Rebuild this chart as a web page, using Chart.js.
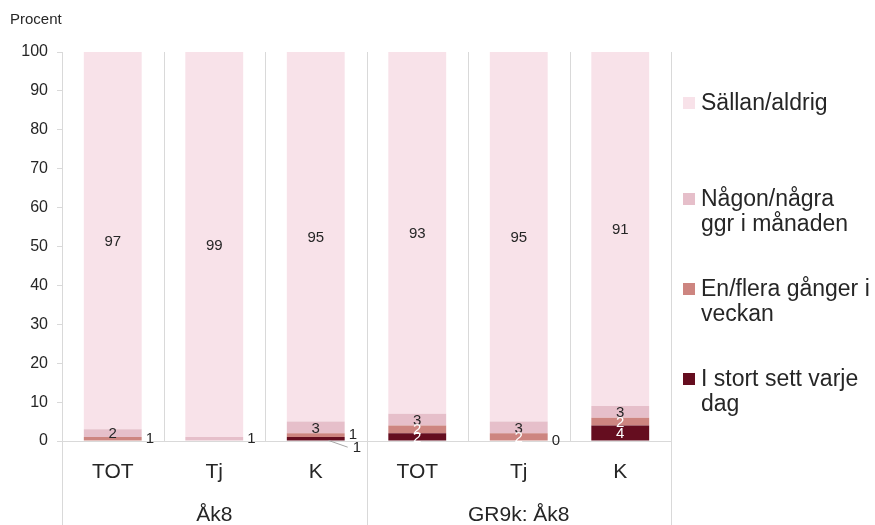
<!DOCTYPE html>
<html>
<head>
<meta charset="utf-8">
<script src="https://cdn.jsdelivr.net/npm/chart.js@4"></script>
<style>
  html, body { margin: 0; padding: 0; background: #fff; }
  #wrap { width: 875px; height: 525px; position: relative; }
</style>
</head>
<body>
<div id="wrap"><canvas id="myChart" width="875" height="525"></canvas></div>
<script>
// categories and groups
var labels = ['TOT', 'Tj', 'K', 'TOT', 'Tj', 'K'];
var groups = ['Åk8', 'GR9k: Åk8'];
var groupSize = 3;

// series values (percent), bottom to top
var daily   = [null, null, 1, 2, 0, 4];
var weekly  = [1, null, 1, 2, 2, 2];
var monthly = [2, 1, 3, 3, 3, 3];
var rare    = [97, 99, 95, 93, 95, 91];

var seriesNames = ['I stort sett varje dag', 'En/flera gånger i veckan', 'Någon/några ggr i månaden', 'Sällan/aldrig'];
var legendLines = [['I stort sett varje', 'dag'], ['En/flera gånger i', 'veckan'], ['Någon/några', 'ggr i månaden'], ['Sällan/aldrig']];
var yTicks = [0, 10, 20, 30, 40, 50, 60, 70, 80, 90, 100];

var FONT = '"Liberation Sans", Arial, sans-serif';
var LINE = '#D9D9D9';
Chart.defaults.font.family = FONT;

// draws the value inside each segment, or to the right of the bar if small
var segLabels = {
  id: 'segLabels',
  afterDatasetsDraw: function(chart) {
    var ctx = chart.ctx;
    ctx.save();
    ctx.font = '15px ' + FONT;
    ctx.textBaseline = 'middle';
    var ds = chart.data.datasets;
    for (var j = 0; j < chart.data.labels.length; j++) {
      var lastY = null;
      for (var i = ds.length - 1; i >= 0; i--) {
        var v = ds[i].data[j];
        if (v === null || v === undefined) continue;
        var bar = chart.getDatasetMeta(i).data[j];
        var cy = (bar.y + bar.base) / 2;
        var right = bar.x + bar.width / 2;
        if (v >= 2) {
          ctx.textAlign = 'center';
          ctx.fillStyle = ds[i].labelColor;
          ctx.fillText(String(v), bar.x, cy + 1);
        } else {
          var ly = cy;
          ctx.textAlign = 'left';
          if (lastY !== null && ly - lastY < 12) {
            ly = lastY + 13;
            ctx.strokeStyle = '#A6A6A6';
            ctx.lineWidth = 1;
            ctx.beginPath();
            ctx.moveTo(right - 16, bar.base);
            ctx.lineTo(right + 3, ly - 1);
            ctx.stroke();
            ctx.fillStyle = '#262626';
            ctx.fillText(String(v), right + 8, ly);
          } else {
            ctx.fillStyle = '#262626';
            ctx.fillText(String(v), right + 4, ly);
          }
          lastY = ly;
        }
      }
    }
    ctx.restore();
  }
};

// separators, group labels, "Procent" and legend
var decor = {
  id: 'decor',
  beforeDatasetsDraw: function(chart) {
    var ctx = chart.ctx, a = chart.chartArea, x = chart.scales.x;
    var h = chart.height;
    ctx.save();
    ctx.strokeStyle = LINE;
    ctx.lineWidth = 1;
    var n = labels.length;
    for (var k = 0; k <= n; k++) {
      var px;
      if (k === 0) px = a.left;
      else if (k === n) px = a.right;
      else px = (x.getPixelForValue(k - 1) + x.getPixelForValue(k)) / 2;
      px = Math.round(px) + 0.5;
      var full = (k % groupSize === 0);
      ctx.beginPath();
      ctx.moveTo(px, a.top);
      ctx.lineTo(px, full ? h : a.bottom);
      ctx.stroke();
    }
    ctx.restore();
  },
  afterDraw: function(chart) {
    var ctx = chart.ctx, a = chart.chartArea, x = chart.scales.x;
    ctx.save();
    ctx.fillStyle = '#262626';
    ctx.textBaseline = 'middle';
    ctx.font = '15px ' + FONT;
    ctx.textAlign = 'left';
    ctx.fillText('Procent', 10, 20);

    ctx.font = '21px ' + FONT;
    ctx.textAlign = 'center';
    for (var g = 0; g < groups.length; g++) {
      var x0 = x.getPixelForValue(g * groupSize);
      var x1 = x.getPixelForValue(g * groupSize + groupSize - 1);
      ctx.fillText(groups[g], (x0 + x1) / 2, 515);
    }

    // legend, top to bottom
    var ys = [103, 199, 289, 379];
    var ds = chart.data.datasets;
    ctx.font = '23px ' + FONT;
    ctx.textAlign = 'left';
    for (var r = 0; r < ds.length; r++) {
      var idx = ds.length - 1 - r;
      var y = ys[r];
      ctx.fillStyle = ds[idx].backgroundColor;
      ctx.fillRect(683, y - 6, 12, 12);
      ctx.fillStyle = '#262626';
      var lines = legendLines[idx];
      for (var l = 0; l < lines.length; l++) {
        ctx.fillText(lines[l], 701, y + 1 + l * 25);
      }
    }
    ctx.restore();
  }
};

var ctx = document.getElementById('myChart').getContext('2d');
var myChart = new Chart(ctx, {
  type: 'bar',
  data: {
    labels: labels,
    datasets: [
      { label: seriesNames[0], data: daily,   backgroundColor: '#650D1F', labelColor: '#FFFFFF' },
      { label: seriesNames[1], data: weekly,  backgroundColor: '#CD8580', labelColor: '#FFFFFF' },
      { label: seriesNames[2], data: monthly, backgroundColor: '#E6BFCA', labelColor: '#262626' },
      { label: seriesNames[3], data: rare,    backgroundColor: '#F8E2E9', labelColor: '#262626' }
    ]
  },
  options: {
    responsive: false,
    animation: false,
    layout: { padding: { top: 52, right: 204, left: 0, bottom: 0 } },
    datasets: { bar: { categoryPercentage: 1, barPercentage: 0.57, borderWidth: 0 } },
    plugins: { legend: { display: false }, tooltip: { enabled: false } },
    scales: {
      x: {
        stacked: true,
        grid: { display: false },
        border: { display: true, color: LINE },
        ticks: { font: { size: 21 }, color: '#262626', padding: 11, maxRotation: 0 },
        afterFit: function(s) { s.height = 84; }
      },
      y: {
        stacked: true,
        min: 0,
        max: 100,
        afterBuildTicks: function(s) { s.ticks = yTicks.map(function(v) { return { value: v }; }); },
        grid: { drawOnChartArea: false, color: LINE, tickLength: 5 },
        border: { display: false },
        ticks: { font: { size: 16 }, color: '#262626', padding: 9 },
        afterFit: function(s) { s.width = 62; }
      }
    }
  },
  plugins: [decor, segLabels]
});
</script>
</body>
</html>
